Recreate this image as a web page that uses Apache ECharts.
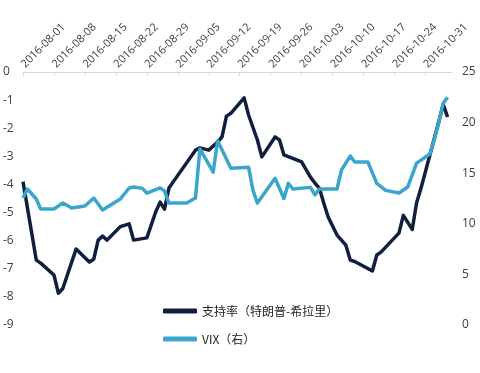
<!DOCTYPE html>
<html>
<head>
<meta charset="utf-8">
<script src="https://cdn.jsdelivr.net/npm/echarts@6/dist/echarts.min.js"></script>
<style>
html,body{margin:0;padding:0;background:#fff;}
#chart{width:480px;height:373px;}
</style>
</head>
<body>
<div id="chart"></div>
<script>
// Axis range (daily categories)
const startDate = '2016-08-01';
const endDate = '2016-11-06';

// Support rate (Trump - Clinton), left axis
const supportDates = ['2016-08-01','2016-08-04','2016-08-05','2016-08-08','2016-08-09','2016-08-10','2016-08-13','2016-08-16','2016-08-17','2016-08-18','2016-08-19','2016-08-20','2016-08-23','2016-08-25','2016-08-26','2016-08-29','2016-08-31','2016-09-01','2016-09-02','2016-09-03','2016-09-04','2016-09-09','2016-09-10','2016-09-12','2016-09-14','2016-09-15','2016-09-16','2016-09-17','2016-09-20','2016-09-21','2016-09-23','2016-09-24','2016-09-27','2016-09-28','2016-09-29','2016-10-01','2016-10-03','2016-10-05','2016-10-06','2016-10-07','2016-10-08','2016-10-09','2016-10-11','2016-10-13','2016-10-14','2016-10-15','2016-10-19','2016-10-20','2016-10-21','2016-10-25','2016-10-26','2016-10-28','2016-10-29','2016-10-30','2016-11-01','2016-11-03','2016-11-04','2016-11-05'];
const supportValues = [-3.9,-6.69,-6.8,-7.22,-7.87,-7.7,-6.3,-6.76,-6.66,-5.98,-5.84,-5.98,-5.5,-5.4,-5.98,-5.9,-4.98,-4.63,-4.88,-4.13,-3.9,-2.78,-2.7,-2.78,-2.49,-2.31,-1.57,-1.47,-0.92,-1.53,-2.42,-3.02,-2.31,-2.42,-2.95,-3.07,-3.2,-3.74,-3.95,-4.13,-4.66,-5.16,-5.8,-6.16,-6.69,-6.74,-7.08,-6.51,-6.4,-5.73,-5.1,-5.6,-4.65,-4.13,-2.95,-1.78,-1.15,-1.6];

// VIX, right axis
const vixDates = ['2016-08-01','2016-08-02','2016-08-04','2016-08-05','2016-08-08','2016-08-10','2016-08-12','2016-08-15','2016-08-17','2016-08-19','2016-08-23','2016-08-25','2016-08-26','2016-08-28','2016-08-29','2016-09-01','2016-09-02','2016-09-03','2016-09-07','2016-09-09','2016-09-10','2016-09-13','2016-09-14','2016-09-17','2016-09-21','2016-09-22','2016-09-23','2016-09-27','2016-09-29','2016-09-30','2016-10-01','2016-10-05','2016-10-06','2016-10-07','2016-10-11','2016-10-12','2016-10-14','2016-10-15','2016-10-18','2016-10-20','2016-10-22','2016-10-25','2016-10-27','2016-10-29','2016-11-01','2016-11-02','2016-11-03','2016-11-04','2016-11-05'];
const vixValues = [12.55,13.44,12.45,11.46,11.46,12.05,11.56,11.76,12.55,11.36,12.45,13.54,13.64,13.5,13.04,13.54,13.25,12.05,12.05,12.55,17.4,15.1,18.2,15.5,15.6,13.3,12.05,14.5,12.5,14.0,13.44,13.6,12.85,13.44,13.44,15.3,16.7,16.1,16.1,14.0,13.3,13.04,13.64,16.0,16.9,18.3,20.0,21.9,22.5];

const seriesNames = ['支持率（特朗普-希拉里）', 'VIX（右）'];

// build daily category list
function fmt(d){
  const m = String(d.getUTCMonth()+1).padStart(2,'0');
  const dd = String(d.getUTCDate()).padStart(2,'0');
  return d.getUTCFullYear()+'-'+m+'-'+dd;
}
const categories = [];
for (let d = new Date(startDate+'T00:00:00Z'); fmt(d) <= endDate; d.setUTCDate(d.getUTCDate()+1)) {
  categories.push(fmt(d));
}

const chart = echarts.init(document.getElementById('chart'), null, {renderer:'canvas'});
const labelFont = '"Open Sans", sans-serif';
chart.setOption({
  animation: false,
  backgroundColor: '#ffffff',
  grid: {left: 22, right: 28, top: 72, bottom: 48, containLabel: false},
  legend: {
    orient: 'vertical',
    left: 158,
    top: 300,
    itemGap: 16,
    itemWidth: 34,
    itemHeight: 5,
    icon: 'roundRect',
    textStyle: {fontFamily: '"Noto Sans CJK SC", sans-serif', fontSize: 12, color: '#222'},
    data: seriesNames
  },
  xAxis: {
    type: 'category',
    position: 'top',
    data: categories,
    boundaryGap: false,
    axisLine: {lineStyle: {color: '#d9d9d9', width: 1}},
    axisTick: {show: true, inside: true, length: 4, interval: 6, lineStyle: {color: '#d9d9d9'}},
    axisLabel: {
      interval: 6, rotate: 45, margin: 6,
      fontFamily: labelFont, fontSize: 11, color: '#404040'
    },
    splitLine: {show: false}
  },
  yAxis: [
    {
      type: 'value', min: -9, max: 0, interval: 1, position: 'left',
      axisLine: {show: false}, axisTick: {show: false}, splitLine: {show: false},
      axisLabel: {align: 'left', margin: 20, fontFamily: labelFont, fontSize: 12, color: '#404040'}
    },
    {
      type: 'value', min: 0, max: 25, interval: 5, position: 'right',
      axisLine: {show: false}, axisTick: {show: false}, splitLine: {show: false},
      axisLabel: {margin: 10, fontFamily: labelFont, fontSize: 12, color: '#404040'}
    }
  ],
  series: [
    {
      name: seriesNames[0], type: 'line', yAxisIndex: 0,
      data: supportDates.map((d, i) => [d, supportValues[i]]),
      showSymbol: false, symbol: 'none',
      lineStyle: {color: '#0f1f3d', width: 3.5, join: 'round'},
      itemStyle: {color: '#0f1f3d'}
    },
    {
      name: seriesNames[1], type: 'line', yAxisIndex: 1,
      data: vixDates.map((d, i) => [d, vixValues[i]]),
      showSymbol: false, symbol: 'none',
      lineStyle: {color: '#3aa6cc', width: 3.5, join: 'round'},
      itemStyle: {color: '#3aa6cc'}
    }
  ]
});
</script>
</body>
</html>
